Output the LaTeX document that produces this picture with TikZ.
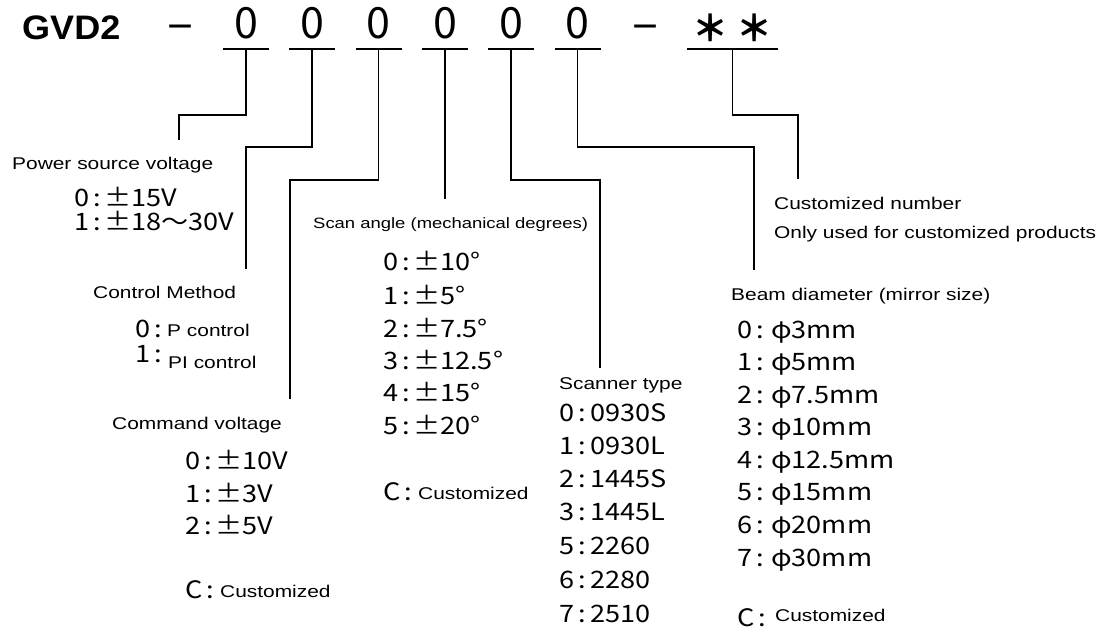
\documentclass[tikz,border=0pt]{standalone}
\usepackage{fontspec}
\setmainfont{Liberation Sans}
\newfontfamily\labfont[FakeStretch=1.23]{Liberation Sans}
\newfontfamily\optfont[FakeStretch=1.13]{Noto Sans CJK JP}
\newfontfamily\hdfont[FakeStretch=1.06]{Liberation Sans}
\newfontfamily\hdcjk{Noto Sans CJK JP}
\newcommand\kv[3]{\makebox[#1pt][l]{#2\hspace{4pt}:}#3}
\tikzset{
  lab/.style={anchor=base west,inner sep=0pt,font=\labfont\fontsize{17}{20}\selectfont},
  labs/.style={anchor=base west,inner sep=0pt,font=\labfont\fontsize{15}{18}\selectfont},
  opt/.style={anchor=base west,inner sep=0pt,font=\optfont\fontsize{24}{28}\selectfont},
  hdig/.style={anchor=base,inner sep=0pt,font=\hdcjk\fontsize{43}{46}\selectfont},
  hast/.style={anchor=base,inner sep=0pt,font=\hdcjk\bfseries\fontsize{36}{40}\selectfont},
  hdash/.style={anchor=base,inner sep=0pt,font=\hdfont\fontsize{42}{46}\selectfont},
  conn/.style={line width=1.8pt,line cap=rect},
  uline/.style={line width=1.8pt},
}
\begin{document}
\begin{tikzpicture}[x=1pt,y=-1pt]
\useasboundingbox (0,0) rectangle (1106,637);
% header
\node[anchor=base west,inner sep=0pt,font=\hdfont\bfseries\fontsize{34}{40}\selectfont] (gvd) at (22,39) {GVD2};
\node[hdash] (dash1) at (180,40.5) {−};
\node[hdig] (d1) at (246,38) {0};
\node[hdig] (d2) at (312,38) {0};
\node[hdig] (d3) at (378.5,38) {0};
\node[hdig] (d4) at (445,38) {0};
\node[hdig] (d5) at (511,38) {0};
\node[hdig] (d6) at (577.5,38) {0};
\node[hdash] (dash2) at (645,40.5) {−};
\node[hast] (a1) at (710,41) {＊};
\node[hast] (a2) at (754,41) {＊};
% underline anchors
\coordinate (u1) at (246,49);
\coordinate (u2) at (312,49);
\coordinate (u3) at (378.5,49);
\coordinate (u4) at (445,49);
\coordinate (u5) at (511,49);
\coordinate (u6) at (577.5,49);
\coordinate (u7) at (732.5,49);
\foreach \u in {u1,u2,u3,u4,u5,u6}
  \draw[uline] ([xshift=-23pt]\u) -- ([xshift=23pt]\u);
\draw[uline] ([xshift=-45.5pt]u7) -- ([xshift=45.5pt]u7);
% connector ends
\coordinate (e1) at (179,139);
\coordinate (e2) at (246,268);
\coordinate (e3) at (290,398);
\coordinate (e4) at (445,198);
\coordinate (e5) at (600,367);
\coordinate (e6) at (754,269);
\coordinate (e7) at (798,178);
\draw[conn] (u1) -- ++(0,66) -| (e1);
\draw[conn] (u2) -- ++(0,98) -| (e2);
\draw[conn] (u3) -- ++(0,131) -| (e3);
\draw[conn] (u4) -- (e4);
\draw[conn] (u5) -- ++(0,131) -| (e5);
\draw[conn] (u6) -- ++(0,98) -| (e6);
\draw[conn] (u7) -- ++(0,66) -| (e7);
% power source
\node[lab] (pw) at (12,169) {Power source voltage};
\node[opt] (pw0) at (74,206) {\kv{30}{0}{±15V}};
\node[opt] (pw1) at (74,230) {\kv{30}{1}{±18〜30V}};
% control method
\node[lab] (cm) at (93,298) {Control Method};
\node[opt] (cm0) at (135,337) {0\hspace{4pt}:};
\node[lab] (cm0v) at (167,336) {P control};
\node[opt] (cm1) at (135,362) {1\hspace{4pt}:};
\node[lab] (cm1v) at (168,368) {PI control};
% command voltage
\node[lab] (cv) at (112,429) {Command voltage};
\node[opt] (cv0) at (185,469) {\kv{30}{0}{±10V}};
\node[opt] (cv1) at (185,502) {\kv{30}{1}{±3V}};
\node[opt] (cv2) at (185,534) {\kv{30}{2}{±5V}};
\node[opt] (cvc) at (185,598) {\kv{35}{C}{\raisebox{1pt}{\labfont\fontsize{17}{20}\selectfont Customized}}};
% scan angle
\node[labs] (sa) at (313,228.5) {Scan angle (mechanical degrees)};
\node[opt] (sa0) at (383,270) {\kv{30}{0}{±10°}};
\node[opt] (sa1) at (383,304) {\kv{30}{1}{±5°}};
\node[opt] (sa2) at (383,337) {\kv{30}{2}{±7.5°}};
\node[opt] (sa3) at (383,369) {\kv{30}{3}{±12.5°}};
\node[opt] (sa4) at (383,401) {\kv{30}{4}{±15°}};
\node[opt] (sa5) at (383,434) {\kv{30}{5}{±20°}};
\node[opt] (sac) at (383,500) {\kv{35}{C}{\raisebox{1pt}{\labfont\fontsize{17}{20}\selectfont Customized}}};
% scanner type
\node[lab] (st) at (559,389) {Scanner type};
\node[opt] (st0) at (559,421) {\kv{31}{0}{0930S}};
\node[opt] (st1) at (559,454) {\kv{31}{1}{0930L}};
\node[opt] (st2) at (559,487) {\kv{31}{2}{1445S}};
\node[opt] (st3) at (559,520) {\kv{31}{3}{1445L}};
\node[opt] (st5) at (559,554) {\kv{31}{5}{2260}};
\node[opt] (st6) at (559,588) {\kv{31}{6}{2280}};
\node[opt] (st7) at (559,622) {\kv{31}{7}{2510}};
% customized number
\node[lab] (cn) at (774,209) {Customized number};
\node[lab] (cn2) at (774,238) {Only used for customized products};
% beam diameter
\node[lab] (bd) at (731,300) {Beam diameter (mirror size)};
\node[opt] (bd0) at (737,338) {\kv{34}{0}{φ3mm}};
\node[opt] (bd1) at (737,370) {\kv{34}{1}{φ5mm}};
\node[opt] (bd2) at (737,403) {\kv{34}{2}{φ7.5mm}};
\node[opt] (bd3) at (737,435) {\kv{34}{3}{φ10mm}};
\node[opt] (bd4) at (737,468) {\kv{34}{4}{φ12.5mm}};
\node[opt] (bd5) at (737,500) {\kv{34}{5}{φ15mm}};
\node[opt] (bd6) at (737,533) {\kv{34}{6}{φ20mm}};
\node[opt] (bd7) at (737,566) {\kv{34}{7}{φ30mm}};
\node[opt] (bdc) at (737,626) {\kv{38}{C}{\raisebox{5pt}{\labfont\fontsize{17}{20}\selectfont Customized}}};
\end{tikzpicture}
\end{document}
